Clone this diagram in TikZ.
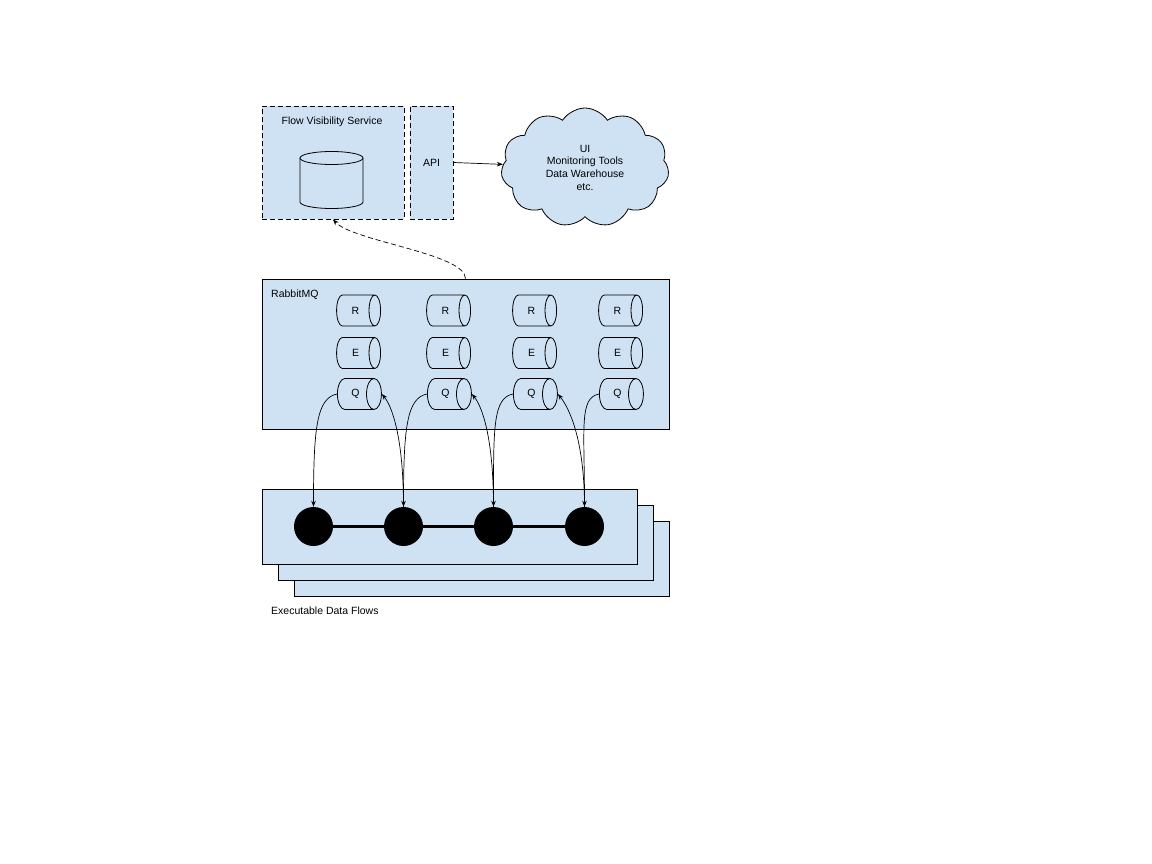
\documentclass[tikz,border=0pt]{standalone}
\usepackage{fontspec}
\setmainfont{Liberation Sans}
\usetikzlibrary{shapes.geometric,shapes.symbols,arrows.meta}
\definecolor{boxblue}{HTML}{CFE2F3}
\begin{document}
\begin{tikzpicture}[x=1pt,y=-1pt,
  every node/.style={font=\fontsize{10.5}{12.7}\selectfont, inner sep=0pt},
  panel/.style={draw=black, fill=boxblue, line width=0.8pt, rectangle},
  dashpanel/.style={panel, dash pattern=on 5pt off 3pt},
  queue/.style={cylinder, draw=black, fill=boxblue, line width=0.8pt, shape aspect=1.6, minimum width=31pt, minimum height=44pt},
  step node/.style={circle, fill=black, minimum size=39pt},
  arr/.style={-{Stealth[length=6pt,width=4.5pt]}, line width=0.7pt},
  txt/.style={anchor=west}
]
\useasboundingbox (0,0) rectangle (1152,864);
\fill[white] (0,0) rectangle (1152,864);

% top row
\node[dashpanel, minimum width=142pt, minimum height=113pt] (fvs) at (333,162.5) {};
\node (fvslabel) at (332,122) {Flow Visibility Service};
\node[dashpanel, minimum width=43pt, minimum height=113pt] (api) at (431.5,162.5) {};
\node (apilabel) at (431.5,163) {API};
\node[cloud, cloud puffs=11, cloud puff arc=115, aspect=1.45, draw=black, fill=boxblue, line width=0.8pt,
      minimum width=168pt, minimum height=119pt, align=center] (cloud) at (585,167.5)
      {UI\\Monitoring Tools\\Data Warehouse\\etc.};

% database cylinder
\coordinate (db) at (331.5,180);
\filldraw[fill=boxblue, draw=black, line width=0.8pt]
  (300,158) -- (300,202) arc[start angle=180, end angle=360, x radius=31.5pt, y radius=6.5pt] -- (363,158);
\draw[fill=boxblue, line width=0.8pt] (331.5,158) ellipse [x radius=31.5pt, y radius=6.5pt];

% RabbitMQ
\node[panel, minimum width=407pt, minimum height=150pt] (rabbit) at (465.5,354) {};
\node[txt] (rabbitlabel) at (271,295) {RabbitMQ};

\foreach \c/\x in {1/355.5,2/445.5,3/531.5,4/617.5}{
  \node[queue] (r\c) at (\x,310.5) {R\hspace{5pt}};
  \node[queue] (e\c) at (\x,353) {E\hspace{5pt}};
  \node[queue] (q\c) at (\x,394) {Q\hspace{5pt}};
}

% executable data flows stack
\node[panel, minimum width=375pt, minimum height=75pt] (flow3) at (481.5,558.5) {};
\node[panel, minimum width=375pt, minimum height=75pt] (flow2) at (465.5,542.5) {};
\node[panel, minimum width=375pt, minimum height=75pt] (flow1) at (449.5,526.5) {};
\node[txt] (flowlabel) at (271,611) {Executable Data Flows};

\node[step node] (c1) at (313.5,526.5) {};
\node[step node] (c2) at (403.5,526.5) {};
\node[step node] (c3) at (493.5,526.5) {};
\node[step node] (c4) at (584.5,526.5) {};
\draw[line width=3.5pt] (c1) -- (c2) -- (c3) -- (c4);

% arrows
\draw[arr] (api.east) -- (cloud);
\draw[arr, dash pattern=on 5pt off 3pt] (rabbit.north) .. controls +(0,-25) and +(20,22) .. (fvs.south);

\draw[arr] (q1.west) .. controls +(-20,4) and +(0,-80) .. (c1.north);
\draw[arr] (q2.west) .. controls +(-20,4) and +(0,-80) .. (c2.north);
\draw[arr] (q3.west) .. controls +(-20,4) and +(0,-80) .. (c3.north);
\draw[arr] (q4.west) .. controls +(-20,4) and +(0,-80) .. (c4.north);
\draw[arr] (c2.north) .. controls +(0,-70) and +(10,12) .. (q1.east);
\draw[arr] (c3.north) .. controls +(0,-70) and +(10,12) .. (q2.east);
\draw[arr] (c4.north) .. controls +(0,-70) and +(10,12) .. (q3.east);
\end{tikzpicture}
\end{document}
